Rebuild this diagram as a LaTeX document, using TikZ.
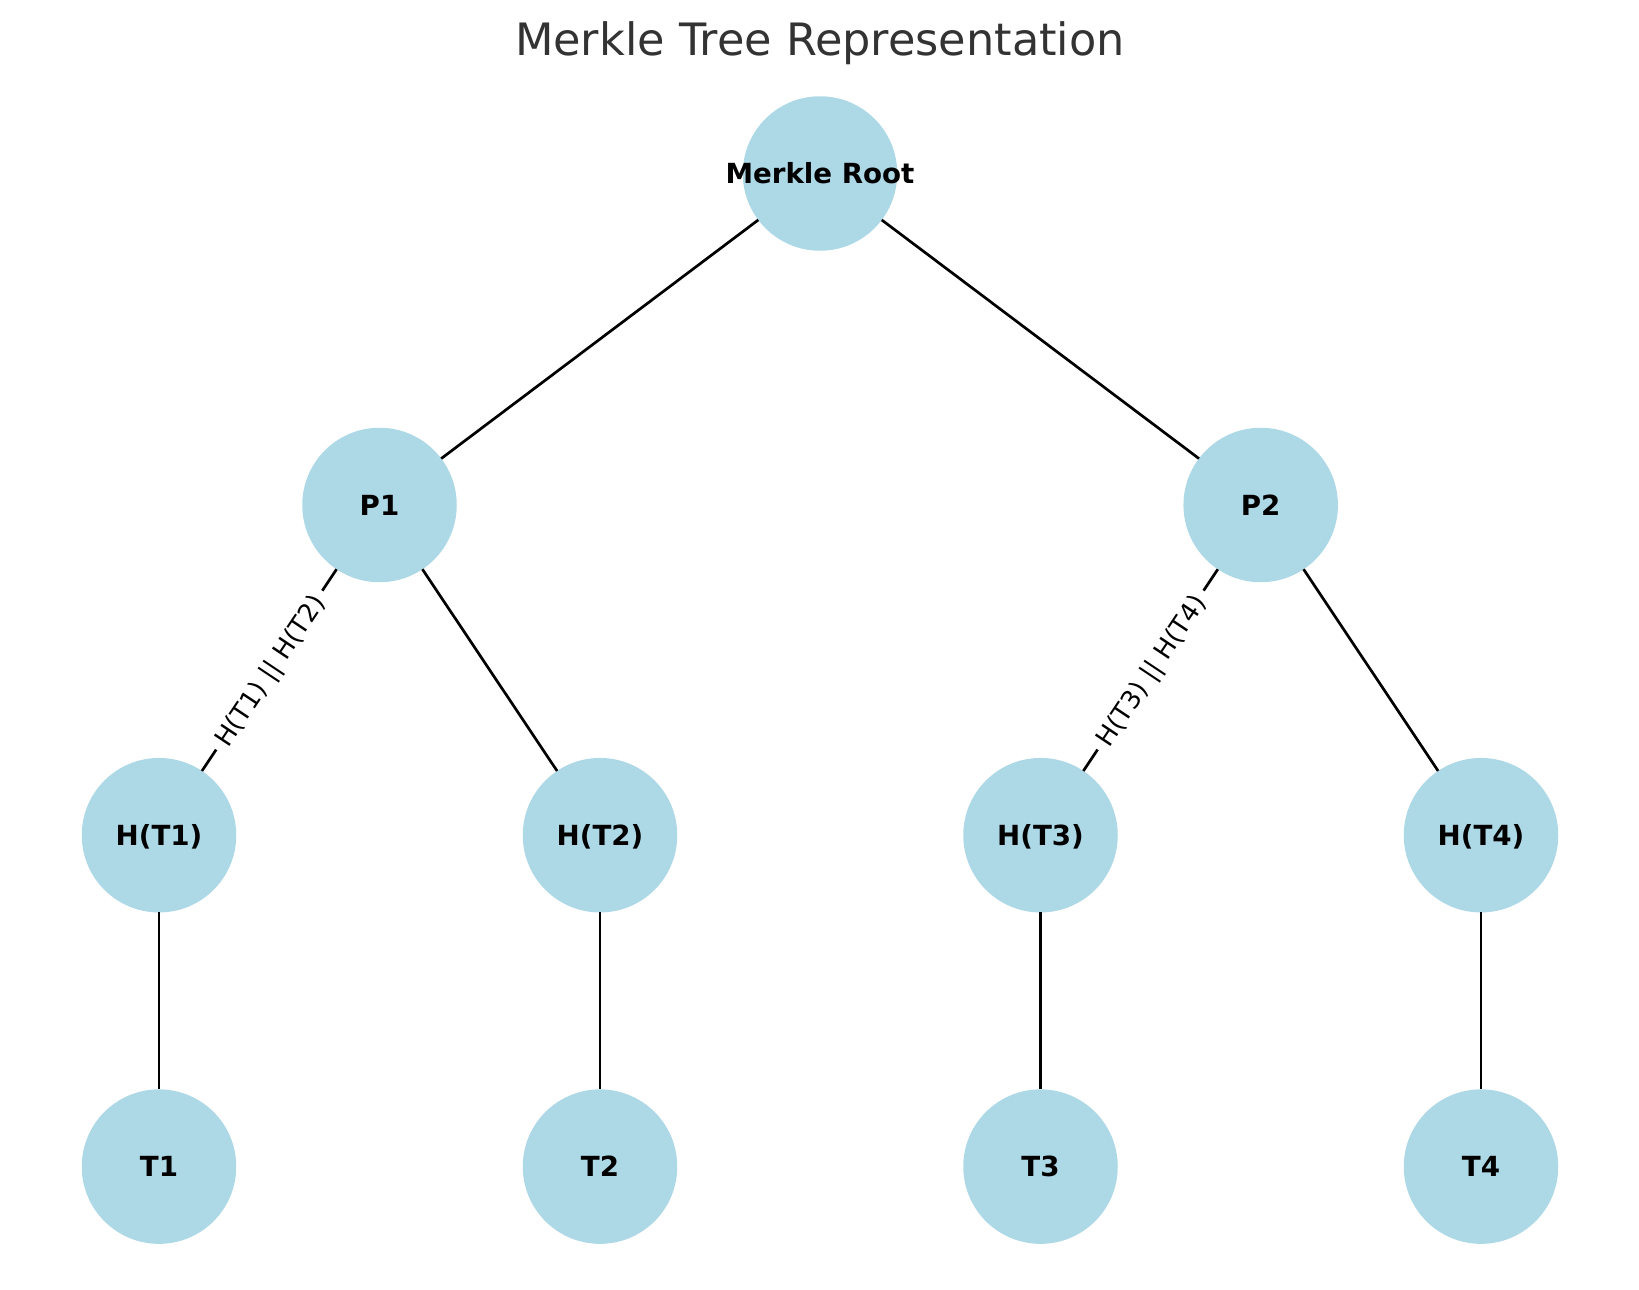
\documentclass[tikz,border=0pt]{standalone}
\usepackage{fontspec}
\setmainfont{DejaVu Sans}
\definecolor{nodeblue}{HTML}{ADD8E6}
\definecolor{titlegray}{HTML}{333333}
\begin{document}
\begin{tikzpicture}[x=1pt,y=-1pt,
  treenode/.style={circle, fill=nodeblue, minimum size=154.5pt, inner sep=0pt, outer sep=0pt,
    font=\fontsize{27.7}{30}\selectfont\bfseries, text height=20.2pt, text depth=0pt},
  link/.style={line width=2.7pt, draw=black},
  elabel/.style={sloped, fill=white, rounded corners=6pt, inner sep=7.5pt,
    font=\fontsize{25.6}{28}\selectfont, text height=18.7pt, text depth=0pt}]
\useasboundingbox (0,0) rectangle (1639,1290);
\node[anchor=base, text=titlegray, font=\fontsize{44.6}{50}\selectfont] (title) at (820,55.6) {Merkle Tree Representation};

\node[treenode] (root) at (820,173.5) {\makebox[0pt]{Merkle Root}};
\node[treenode] (p1) at (379.5,505) {P1};
\node[treenode] (p2) at (1260.7,505) {P2};
\node[treenode] (h1) at (159,835.2) {H(T1)};
\node[treenode] (h2) at (600,835.2) {H(T2)};
\node[treenode] (h3) at (1040.5,835.2) {H(T3)};
\node[treenode] (h4) at (1481,835.2) {H(T4)};
\node[treenode] (t1) at (159,1166.6) {T1};
\node[treenode] (t2) at (600,1166.6) {T2};
\node[treenode] (t3) at (1040.5,1166.6) {T3};
\node[treenode] (t4) at (1481,1166.6) {T4};

\draw[link] (root) -- (p1);
\draw[link] (root) -- (p2);
\draw[link] (p1) -- node[midway, elabel] (l1) {H(T1) || H(T2)} (h1);
\draw[link] (p1) -- (h2);
\draw[link] (p2) -- node[midway, elabel] (l2) {H(T3) || H(T4)} (h3);
\draw[link] (p2) -- (h4);
\draw[link] (h1) -- (t1);
\draw[link] (h2) -- (t2);
\draw[link] (h3) -- (t3);
\draw[link] (h4) -- (t4);
\end{tikzpicture}
\end{document}
